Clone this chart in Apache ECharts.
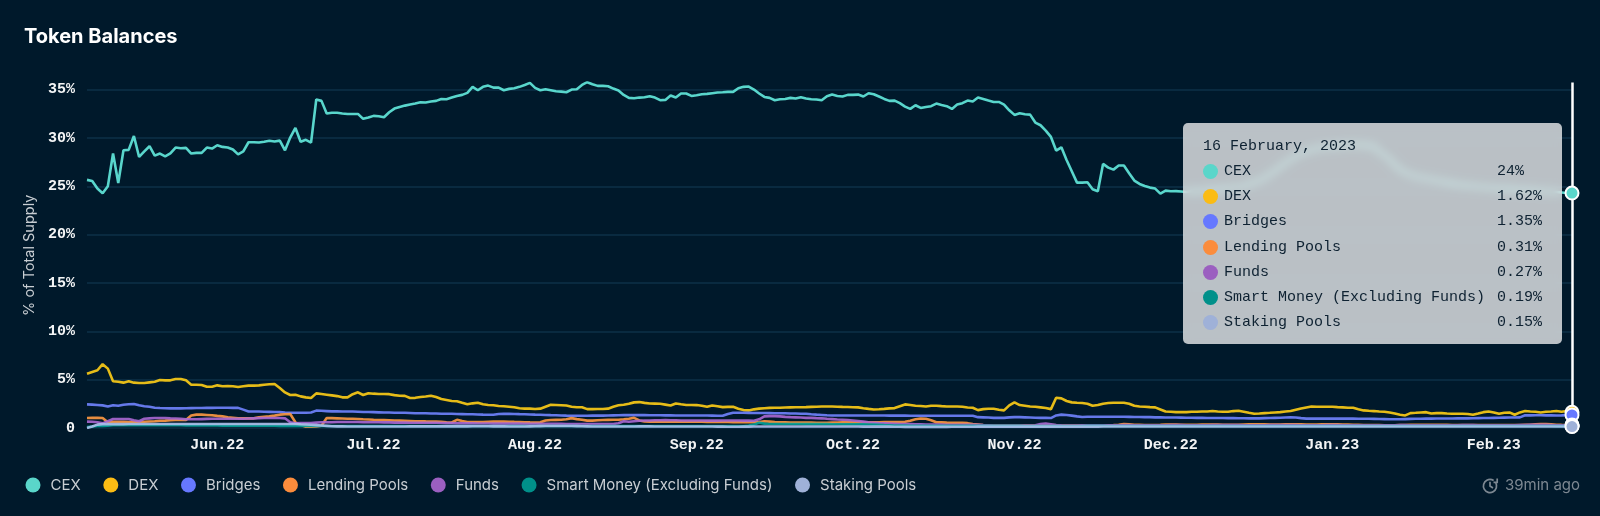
<!DOCTYPE html>
<html><head><meta charset="utf-8">
<style>html,body{margin:0;padding:0;background:#00192b}#c{width:1600px;height:516px}</style>
<script src="https://cdn.jsdelivr.net/npm/echarts@6/dist/echarts.min.js"></script>
</head><body><div id="c"></div>
<script>
const startDate = [2022, 4, 7];
const seriesNames = ['CEX','DEX','Bridges','Lending Pools','Funds','Smart Money (Excluding Funds)','Staking Pools'];
const seriesColors = ['#5ad6ca','#fbbc14','#6678ff','#fb8c3c','#9b5fc0','#00908a','#9fb1d8'];
const monthNames = ['Jan','Feb','Mar','Apr','May','Jun','Jul','Aug','Sep','Oct','Nov','Dec'];
const monthFull = ['January','February','March','April','May','June','July','August','September','October','November','December'];

const cex = [
25.66,25.55,24.76,24.28,25.0,28.38,25.34,28.72,28.76,30.2,
28.03,28.6,29.14,28.17,28.38,28.1,28.4,29.0,28.93,28.97,
28.38,28.45,28.45,29.0,28.9,29.24,29.07,29.0,28.8,28.3,
28.6,29.55,29.55,29.52,29.6,29.7,29.62,29.72,28.72,30.03,
31.03,29.6,29.8,29.52,33.97,33.83,32.52,32.6,32.6,32.52,
32.48,32.48,32.48,31.97,32.1,32.28,32.24,32.14,32.65,33.03,
33.2,33.34,33.45,33.55,33.69,33.66,33.76,33.83,34.03,34.0,
34.17,34.34,34.45,34.66,35.28,34.93,35.28,35.41,35.2,35.2,
34.93,35.07,35.14,35.28,35.48,35.69,35.17,34.93,35.03,34.93,
34.83,34.79,34.72,35.0,35.03,35.48,35.76,35.55,35.38,35.38,
35.34,35.1,34.9,34.45,34.14,34.1,34.17,34.2,34.31,34.17,
33.9,33.93,34.38,34.17,34.59,34.59,34.34,34.41,34.52,34.55,
34.62,34.69,34.72,34.76,34.76,35.14,35.28,35.31,35.0,34.59,
34.24,34.14,33.9,34.0,34.03,34.14,34.07,34.2,34.07,34.0,
33.97,33.9,34.31,34.48,34.34,34.28,34.45,34.45,34.48,34.28,
34.62,34.52,34.28,34.03,33.83,33.86,33.59,33.24,33.0,33.38,
33.1,33.2,33.28,33.55,33.41,33.28,33.0,33.45,33.59,33.86,
33.76,34.17,34.03,33.86,33.72,33.72,33.45,32.86,32.38,32.55,
32.45,32.41,31.59,31.31,30.76,30.1,28.69,29.03,27.72,26.55,
25.38,25.38,25.41,24.69,24.48,27.31,26.93,26.72,27.14,27.14,
26.34,25.59,25.24,25.03,24.86,24.76,24.24,24.55,24.48,24.5,
24.45,24.4,24.5,24.45,24.5,24.6,24.6,24.7,24.7,24.8,
24.9,24.9,25.0,25.2,25.4,25.6,25.9,26.2,26.6,27,
27.4,27.8,28.1,28.4,28.6,28.8,28.9,29,29.1,29.1,
29.2,29.2,29.3,29.3,29.3,29.2,29.2,29.1,28.6,28.2,
27.8,27.2,26.7,26.4,26.2,26.0,25.9,25.8,25.7,25.6,
25.5,25.4,25.3,25.2,25.1,25.1,25.0,24.95,24.9,24.85,
24.8,24.75,24.7,24.7,24.65,24.6,24.55,24.6,24.5,24.5,
24.45,24.4,24.4,24.35,24.3,24.3];

const dex = [
5.62,5.8,5.97,6.6,6.14,4.83,4.79,4.69,4.83,4.69,
4.65,4.65,4.72,4.79,4.96,4.93,4.93,5.07,5.07,4.93,
4.48,4.48,4.45,4.27,4.27,4.41,4.31,4.34,4.31,4.24,
4.31,4.38,4.38,4.41,4.48,4.52,4.55,4.13,3.68,3.41,
3.44,3.27,3.17,3.1,3.58,3.51,3.44,3.37,3.3,3.17,
3.17,3.5,3.69,3.41,3.59,3.55,3.52,3.52,3.5,3.4,
3.34,3.32,3.1,3.12,3.2,3.25,3.34,3.2,3.0,2.9,
2.8,2.76,2.6,2.45,2.55,2.62,2.45,2.38,2.35,2.28,
2.25,2.2,2.15,2.05,2,2,1.97,2,2.2,2.4,
2.38,2.35,2.32,2.2,2.15,2.15,1.95,1.95,1.97,1.97,
2.0,2.2,2.35,2.4,2.5,2.65,2.68,2.6,2.54,2.52,
2.5,2.42,2.33,2.54,2.45,2.38,2.38,2.37,2.3,2.2,
2.33,2.25,2.16,2.18,2.2,2.0,1.85,1.82,1.93,2.0,
2.05,2.08,2.09,2.1,2.12,2.13,2.14,2.15,2.16,2.18,
2.2,2.22,2.23,2.22,2.2,2.18,2.17,2.15,2.13,2.05,
1.98,1.92,1.94,1.98,2.03,2.06,2.25,2.44,2.38,2.3,
2.27,2.22,2.3,2.3,2.26,2.23,2.23,2.23,2.2,2.12,
2.09,1.85,1.95,1.99,1.99,1.89,1.82,2.34,2.65,2.37,
2.3,2.23,2.2,2.13,2.06,1.95,3.13,3.06,2.79,2.65,
2.61,2.58,2.51,2.3,2.37,2.51,2.58,2.61,2.61,2.61,
2.51,2.3,2.23,2.2,2.16,2.13,1.92,1.71,1.68,1.64,
1.64,1.64,1.68,1.68,1.71,1.71,1.75,1.71,1.68,1.68,
1.75,1.78,1.68,1.57,1.47,1.5,1.54,1.57,1.61,1.64,
1.71,1.75,1.89,2.02,2.13,2.23,2.2,2.2,2.2,2.2,
2.16,2.13,2.09,2.09,1.95,1.82,1.78,1.75,1.71,1.68,
1.61,1.5,1.37,1.3,1.54,1.57,1.61,1.64,1.5,1.54,
1.54,1.5,1.47,1.47,1.47,1.44,1.37,1.5,1.64,1.71,
1.61,1.47,1.57,1.61,1.37,1.61,1.75,1.71,1.68,1.61,
1.68,1.71,1.75,1.68,1.75,1.62];

const bridges = [
2.44,2.42,2.38,2.34,2.22,2.35,2.3,2.4,2.45,2.48,
2.35,2.25,2.2,2.1,2.07,2.05,2.03,2.03,2.03,2.05,
2.06,2.07,2.07,2.08,2.08,2.09,2.09,2.09,2.08,2.08,
1.9,1.7,1.7,1.7,1.68,1.67,1.66,1.65,1.6,1.58,
1.58,1.57,1.57,1.6,1.8,1.78,1.75,1.72,1.72,1.71,
1.71,1.7,1.68,1.66,1.65,1.64,1.62,1.6,1.6,1.58,
1.57,1.57,1.55,1.53,1.52,1.52,1.5,1.5,1.48,1.47,
1.47,1.45,1.44,1.42,1.42,1.4,1.38,1.37,1.37,1.45,
1.47,1.46,1.45,1.43,1.42,1.4,1.38,1.37,1.35,1.33,
1.32,1.3,1.28,1.27,1.26,1.26,1.27,1.28,1.28,1.28,
1.3,1.31,1.32,1.33,1.33,1.33,1.33,1.33,1.32,1.32,
1.32,1.31,1.31,1.3,1.3,1.3,1.3,1.3,1.29,1.29,
1.28,1.26,1.26,1.45,1.57,1.57,1.57,1.56,1.55,1.55,
1.55,1.54,1.53,1.52,1.52,1.5,1.5,1.48,1.47,1.42,
1.38,1.35,1.32,1.3,1.3,1.3,1.3,1.3,1.3,1.3,
1.3,1.3,1.29,1.29,1.28,1.28,1.28,1.28,1.27,1.27,
1.27,1.27,1.27,1.26,1.26,1.26,1.26,1.26,1.26,1.26,
1.26,1.12,1.1,1.08,1.05,1.05,1.05,1.1,1.12,1.12,
1.1,1.08,1.06,1.05,1.05,1.03,1.3,1.38,1.35,1.28,
1.2,1.14,1.16,1.16,1.17,1.17,1.17,1.17,1.17,1.16,
1.15,1.14,1.13,1.12,1.12,1.1,1.1,1.09,1.08,1.08,
1.07,1.06,1.06,1.05,1.05,1.04,1.04,1.03,1.03,1.02,
1.02,1.01,1.01,1.0,1.0,1.0,1.02,1.04,1.05,1.06,
1.08,1.1,1.08,1.02,.97,.97,.97,.97,.97,.97,
.97,.97,.97,.97,.96,.96,.95,.94,.93,.92,
.91,.9,.9,.92,.94,.95,.96,.97,.97,.98,
.98,.99,.99,1.0,1.0,1.0,1.01,1.02,1.03,1.04,
1.05,1.06,1.07,1.08,1.09,1.1,1.31,1.31,1.32,1.32,
1.31,1.31,1.3,1.31,1.33,1.35];

const lending = [
1.03,1.05,1.05,1.03,.6,.65,.65,.65,.62,.62,
.62,.65,.68,.7,.75,.76,.8,.83,.83,.83,
1.3,1.38,1.38,1.35,1.32,1.25,1.2,1.1,1.05,1.0,
1.0,1.0,1.0,1.1,1.15,1.2,1.28,1.38,1.42,1.45,
.59,.3,.14,.14,.16,.24,1.03,1.02,1.0,.98,
.96,.95,.93,.9,.88,.85,.83,.82,.8,.78,
.76,.74,.72,.7,.69,.68,.66,.66,.65,.6,
.57,.85,.72,.62,.62,.62,.62,.64,.66,.66,
.66,.65,.63,.62,.6,.58,.57,.6,.78,.82,
.84,.86,.9,1.02,.92,.85,.76,.76,.8,.82,
.84,.86,.86,.9,.95,1.05,.78,.68,.66,.66,
.66,.65,.65,.66,.66,.65,.65,.64,.64,.63,
.63,.63,.62,.62,.61,.6,.6,.6,.6,.62,
.7,.66,.62,.6,.58,.56,.56,.56,.56,.56,
.55,.55,.55,.56,.57,.58,.58,.58,.58,.58,
.58,.58,.6,.62,.62,.62,.62,.65,.75,.9,
.98,.95,.8,.6,.58,.56,.55,.54,.53,.5,
.42,.36,.3,.28,.26,.25,.25,.25,.25,.25,
.25,.25,.25,.28,.3,.3,.28,.26,.25,.25,
.25,.25,.25,.25,.25,.25,.28,.3,.34,.42,
.38,.34,.32,.3,.3,.3,.32,.35,.36,.35,
.33,.32,.32,.33,.35,.36,.36,.35,.34,.33,
.32,.33,.35,.37,.38,.38,.37,.36,.36,.36,
.37,.38,.38,.37,.36,.36,.36,.37,.38,.38,
.37,.36,.35,.33,.32,.3,.3,.3,.3,.28,
.28,.28,.3,.3,.32,.33,.33,.34,.33,.33,
.32,.32,.3,.3,.3,.3,.3,.3,.3,.3,
.3,.3,.3,.3,.3,.3,.32,.32,.38,.4,
.42,.38,.34,.32,.31,.31];

const funds = [
.66,.64,.6,.48,.7,.93,.93,.93,.93,.8,
.7,.96,1.0,1.03,1.03,1.03,1.0,.98,.95,.9,
.9,.9,.92,.94,.96,.96,.96,.96,.96,.96,
.96,.98,1.0,1.02,1.03,1.03,1.03,1.03,1.0,.59,
.48,.5,.5,.52,.56,.59,.6,.6,.62,.62,
.62,.62,.62,.6,.6,.6,.6,.58,.58,.56,
.56,.56,.55,.55,.55,.55,.55,.55,.52,.5,
.5,.48,.48,.48,.48,.46,.46,.46,.45,.45,
.45,.45,.45,.45,.44,.44,.44,.44,.43,.43,
.43,.43,.42,.42,.42,.42,.42,.42,.42,.42,
.42,.42,.5,.7,.65,.7,.75,.78,.78,.8,
.8,.82,.8,.8,.78,.78,.78,.78,.78,.76,
.76,.76,.78,.78,.78,.78,.76,.76,.75,.9,
1.2,1.23,1.23,1.2,1.15,1.12,1.1,1.08,1.05,1.05,
1.02,1.0,.95,.92,.88,.85,.82,.78,.72,.66,
.6,.55,.5,.48,.46,.44,.42,.4,.4,.38,
.38,.36,.36,.35,.35,.34,.34,.33,.32,.32,
.32,.34,.3,.28,.26,.25,.25,.25,.25,.25,
.25,.26,.28,.4,.46,.38,.3,.27,.25,.25,
.26,.27,.27,.28,.28,.28,.27,.27,.28,.3,
.3,.29,.28,.28,.27,.27,.28,.29,.3,.3,
.3,.29,.28,.28,.28,.29,.3,.3,.31,.31,
.3,.3,.29,.29,.28,.28,.29,.3,.3,.3,
.31,.31,.3,.29,.28,.28,.28,.29,.3,.3,
.3,.29,.29,.28,.28,.27,.27,.27,.28,.28,
.28,.29,.3,.3,.29,.28,.28,.27,.27,.27,
.27,.28,.29,.29,.3,.3,.3,.29,.28,.28,
.28,.27,.27,.28,.29,.3,.3,.32,.34,.34,
.32,.3,.28,.27,.27,.27];

const smartMoney = [
.1,.15,.2,.22,.25,.28,.3,.3,.32,.3,
.3,.3,.29,.29,.29,.28,.28,.28,.28,.27,
.27,.27,.26,.26,.26,.26,.25,.25,.25,.25,
.24,.24,.24,.24,.23,.23,.23,.22,.22,.22,
.22,.21,.21,.21,.2,.2,.2,.2,.2,.2,
.2,.2,.2,.2,.2,.2,.2,.2,.2,.2,
.2,.2,.2,.2,.2,.2,.2,.2,.2,.2,
.2,.2,.2,.2,.2,.2,.2,.2,.2,.2,
.2,.2,.2,.2,.2,.2,.2,.2,.2,.2,
.2,.2,.2,.2,.2,.2,.2,.2,.2,.2,
.2,.2,.2,.2,.2,.2,.2,.2,.2,.2,
.2,.2,.2,.2,.2,.2,.2,.2,.2,.2,
.2,.2,.2,.2,.2,.2,.2,.25,.35,.55,
.45,.42,.42,.42,.42,.41,.41,.41,.4,.4,
.4,.4,.4,.39,.39,.38,.38,.38,.37,.37,
.36,.35,.33,.3,.28,.26,.25,.25,.24,.24,
.24,.24,.24,.23,.23,.23,.23,.23,.22,.22,
.22,.22,.22,.22,.22,.22,.22,.22,.22,.22,
.2,.2,.2,.2,.2,.2,.2,.2,.2,.2,
.2,.2,.22,.24,.24,.22,.2,.2,.2,.2,
.2,.2,.2,.2,.2,.2,.2,.2,.2,.2,
.2,.2,.2,.2,.2,.2,.2,.2,.2,.2,
.2,.2,.2,.2,.2,.2,.2,.2,.2,.2,
.2,.2,.2,.2,.2,.2,.2,.2,.2,.2,
.2,.2,.2,.2,.2,.2,.2,.2,.2,.2,
.2,.2,.2,.2,.2,.2,.2,.2,.2,.2,
.2,.2,.2,.2,.2,.2,.2,.2,.2,.2,
.2,.2,.2,.2,.2,.2,.2,.2,.2,.2,
.2,.2,.19,.19,.19,.19];

const stakingPools = [
0,.15,.35,.4,.4,.4,.4,.4,.41,.41,
.41,.41,.41,.41,.41,.41,.41,.41,.41,.41,
.41,.41,.41,.41,.41,.41,.41,.41,.41,.41,
.41,.41,.41,.41,.41,.41,.41,.41,.41,.41,
.41,.38,.36,.33,.3,.26,.22,.18,.17,.17,
.16,.16,.16,.16,.16,.16,.16,.16,.16,.16,
.16,.16,.17,.17,.17,.17,.17,.17,.17,.17,
.17,.17,.17,.17,.18,.18,.18,.18,.17,.17,
.17,.16,.16,.16,.16,.17,.18,.19,.2,.2,
.2,.2,.2,.2,.19,.18,.17,.16,.15,.15,
.15,.15,.15,.15,.16,.16,.17,.17,.17,.16,
.16,.15,.15,.15,.15,.15,.15,.15,.15,.15,
.15,.14,.14,.13,.13,.13,.14,.14,.15,.15,
.16,.16,.16,.16,.16,.15,.15,.15,.15,.15,
.15,.15,.15,.15,.15,.15,.15,.15,.15,.14,
.14,.14,.14,.14,.14,.13,.13,.12,.12,.12,
.12,.12,.12,.12,.12,.12,.13,.13,.13,.13,
.13,.14,.14,.14,.14,.14,.14,.14,.14,.14,
.14,.14,.14,.14,.14,.14,.14,.14,.14,.14,
.14,.14,.14,.14,.14,.15,.15,.15,.15,.15,
.15,.15,.15,.15,.15,.15,.15,.15,.15,.15,
.15,.15,.15,.15,.15,.15,.15,.15,.15,.15,
.15,.15,.15,.15,.15,.15,.15,.15,.15,.15,
.15,.15,.15,.15,.15,.15,.15,.15,.15,.15,
.15,.15,.15,.15,.15,.15,.15,.15,.15,.15,
.15,.15,.15,.15,.15,.15,.15,.15,.15,.15,
.15,.15,.15,.15,.15,.15,.15,.15,.15,.15,
.15,.15,.15,.15,.15,.15,.15,.15,.15,.15,
.15,.15,.15,.15,.15,.15];

const seriesValues = [cex, dex, bridges, lending, funds, smartMoney, stakingPools];
const days = cex.map((_, i) => new Date(startDate[0], startDate[1], startDate[2] + i));
const categories = days.map(d => d.getFullYear() + '-' + (d.getMonth() + 1) + '-' + d.getDate());
const MONO = '"Liberation Mono","DejaVu Sans Mono",monospace';
const SANS = 'Inter,"Noto Sans",sans-serif';
const fmt = v => (v >= 10 ? Math.round(v) : v.toFixed(2)) + '%';
const iconStroke = {fill:'none', stroke:'#7d8892', lineWidth:1.7};

const chart = echarts.init(document.getElementById('c'), null, {renderer:'canvas'});
chart.setOption({
  animation: false,
  backgroundColor: '#00192b',
  color: seriesColors,
  title: {text:'Token Balances', left:19, top:22, textStyle:{color:'#fff', fontFamily:SANS, fontSize:20, fontWeight:700}},
  legend: {
    left:20.5, top:472.5, icon:'circle', itemWidth:25, itemHeight:15, itemGap:22.6,
    itemStyle:{borderWidth:0},
    textStyle:{color:'#c8ced3', fontFamily:SANS, fontSize:15},
    data: seriesNames
  },
  grid: {left:87, right:28, top:82.5, bottom:88},
  tooltip: {
    trigger:'axis', alwaysShowContent:true, transitionDuration:0, confine:false,
    position:[1183,123], padding:0, borderWidth:0, borderRadius:5,
    backgroundColor:'rgba(255,255,255,0.73)',
    extraCssText:'box-shadow:none;backdrop-filter:blur(5px);width:379px;height:221px;box-sizing:border-box;',
    axisPointer:{type:'line', snap:true, z:1, lineStyle:{color:'#fff', width:2.5, type:'solid'}, label:{show:false}},
    formatter: ps => {
      const d = days[ps[0].dataIndex];
      const head = '<div style="height:25px;line-height:25px;">' + d.getDate() + ' ' + monthFull[d.getMonth()] + ', ' + d.getFullYear() + '</div>';
      const rows = ps.map(p => '<div style="height:25.2px;line-height:25.2px;position:relative;white-space:nowrap;">'
        + '<span style="position:absolute;left:0;top:5px;width:15px;height:15px;border-radius:50%;background:' + p.color + ';"></span>'
        + '<span style="position:absolute;left:21px;">' + p.seriesName + '</span>'
        + '<span style="position:absolute;left:294px;">' + fmt(p.value) + '</span></div>').join('');
      return '<div style="padding:11px 20px;font:500 15px ' + MONO.replace(/"/g, "'") + ';color:#0e2232;">' + head + rows + '</div>';
    }
  },
  xAxis: {
    type:'category', boundaryGap:false, data:categories,
    axisLine:{show:false}, axisTick:{show:false}, splitLine:{show:false},
    axisLabel:{
      margin:10, color:'#f2f4f5', fontFamily:MONO, fontSize:15, fontWeight:700, hideOverlap:false,
      interval:(i) => days[i].getDate() === 1,
      formatter:(v, i) => monthNames[days[i].getMonth()] + '.' + String(days[i].getFullYear()).slice(2)
    }
  },
  yAxis: {
    type:'value', min:0, max:35.73, interval:5,
    name:'% of Total Supply', nameLocation:'middle', nameGap:44,
    nameTextStyle:{color:'#c8ced3', fontFamily:SANS, fontSize:14.5},
    axisLine:{show:false}, axisTick:{show:false},
    splitLine:{show:true, showMaxLine:false, lineStyle:{color:'#0c3049', width:1.5}},
    axisLabel:{
      margin:12, color:'#f2f4f5', fontFamily:MONO, fontSize:15, fontWeight:700,
      showMaxLabel:false,
      formatter:v => v === 0 ? '0' : v + '%'
    }
  },
  series: seriesNames.map((name, k) => ({
    name, type:'line', data:seriesValues[k], showSymbol:false, symbol:'circle', symbolSize:13,
    lineStyle:{width:2.6, color:seriesColors[k], opacity:0.9},
    itemStyle:{color:seriesColors[k], borderColor:'#fff', borderWidth:2},
    emphasis:{scale:false, focus:'none', lineStyle:{width:2.6}},
    z:2+k
  })),
  graphic: [
    {type:'text', x:1505, y:478, style:{text:'39min ago', fill:'#7d8892', font:'15px ' + SANS}},
    {type:'arc', shape:{cx:1490, cy:486, r:6.6, startAngle:-0.5, endAngle:5.3, clockwise:true}, style:iconStroke},
    {type:'polyline', shape:{points:[[1497.2,478.5],[1497.2,482.3],[1493.5,482.3]]}, style:iconStroke},
    {type:'polyline', shape:{points:[[1490,481.8],[1490,486],[1493,488]]}, style:iconStroke}
  ]
});
chart.dispatchAction({type:'showTip', seriesIndex:0, dataIndex:cex.length - 1});
</script></body></html>
